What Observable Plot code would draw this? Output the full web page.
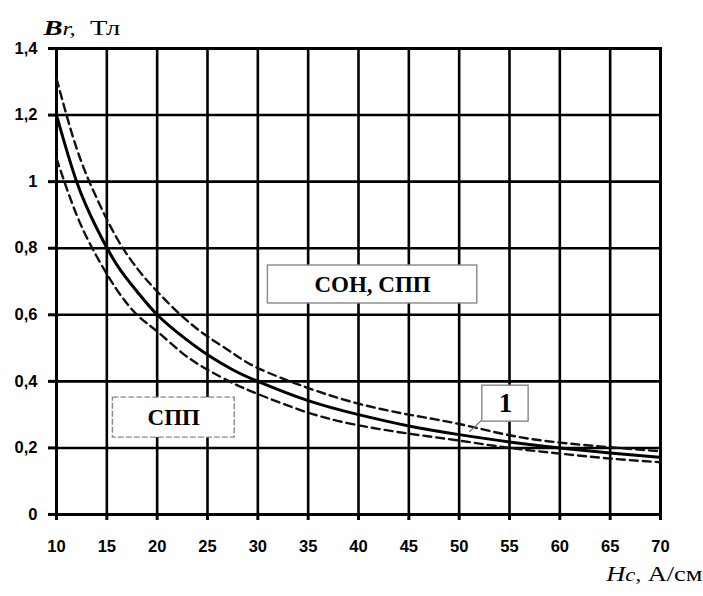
<!DOCTYPE html>
<html>
<head>
<meta charset="utf-8">
<script src="https://cdn.jsdelivr.net/npm/d3@7"></script>
<script src="https://cdn.jsdelivr.net/npm/@observablehq/plot@0.6"></script>
<style>
  html, body { margin: 0; padding: 0; background: #fff; }
</style>
</head>
<body>
<div id="chart"></div>
<script>
// ---- data ----
const H      = [10, 12, 14, 16, 18, 20, 22.5, 25, 27.5, 30, 35, 40, 45, 50, 55, 60, 65, 70];
const Bmain  = [1.2, 1.0, 0.86, 0.75, 0.67, 0.6, 0.535, 0.48, 0.435, 0.4, 0.342, 0.3, 0.266, 0.24, 0.218, 0.2, 0.185, 0.172];
const Bupper = [1.31, 1.1, 0.95, 0.83, 0.74, 0.67, 0.595, 0.535, 0.485, 0.44, 0.38, 0.333, 0.3, 0.272, 0.238, 0.216, 0.202, 0.19];
const Blower = [1.07, 0.9, 0.775, 0.675, 0.6, 0.55, 0.485, 0.435, 0.395, 0.362, 0.306, 0.268, 0.243, 0.222, 0.2, 0.183, 0.168, 0.157];

const xTicks = [10, 15, 20, 25, 30, 35, 40, 45, 50, 55, 60, 65, 70];
const yTicks = [0, 0.2, 0.4, 0.6, 0.8, 1.0, 1.2, 1.4];

// annotation boxes (data coordinates)
const boxText = ["СОН, СПП", "СПП", "1"];
const boxH1 = [31.0, 15.6, 52.3];
const boxH2 = [51.8, 27.7, 56.9];
const boxB1 = [0.634, 0.231, 0.279];
const boxB2 = [0.748, 0.351, 0.387];
const boxDashed = [false, true, false];

// leader line from box "1" to the curves
const leaderH = [52.3, 51.0];
const leaderB = [0.285, 0.248];

// axis titles
const yTitle = [{s: "B", it: true, b: true, fs: 22}, {s: "r,", it: true, b: false, fs: 19}, {s: "  Тл", it: false, b: false, fs: 22}];
const xTitle = [{s: "H", it: true, b: false, fs: 22}, {s: "c,", it: true, b: false, fs: 19}, {s: " А/см", it: false, b: false, fs: 22}];

// ---- build tables ----
const series = (B) => H.map((h, i) => ({H: h, B: B[i]}));
const boxes = boxText.map((t, i) => ({
  text: t, h1: boxH1[i], h2: boxH2[i], b1: boxB1[i], b2: boxB2[i],
  hc: (boxH1[i] + boxH2[i]) / 2, bc: (boxB1[i] + boxB2[i]) / 2, dashed: boxDashed[i]
}));
const leader = [{h1: leaderH[0], b1: leaderB[0], h2: leaderH[1], b2: leaderB[1]}];
const fmt = d => String(+d.toFixed(1)).replace(".", ",");
const yTitleStr = yTitle.map(p => p.s).join("");
const xTitleStr = xTitle.map(p => p.s).join("");

const serif = "'Liberation Serif', 'Times New Roman', serif";

const chart = Plot.plot({
  width: 703,
  height: 596,
  marginLeft: 56,
  marginRight: 43,
  marginTop: 48,
  marginBottom: 82,
  style: {fontFamily: "'Liberation Sans', Arial, sans-serif", fontWeight: "bold", fontSize: "16px", background: "#fff", color: "#000"},
  x: {domain: [10, 70]},
  y: {domain: [0, 1.4]},
  marks: [
    Plot.gridX(xTicks, {stroke: "#000", strokeOpacity: 1, strokeWidth: 2.6}),
    Plot.gridY(yTicks, {stroke: "#000", strokeOpacity: 1, strokeWidth: 2.6}),
    Plot.frame({stroke: "#000", strokeWidth: 3}),
    Plot.axisX({ticks: xTicks, tickSize: 6, tickPadding: 20, strokeWidth: 3, label: null, tickFormat: d => String(d), fontWeight: "bold", fontSize: 16.5}),
    Plot.axisY({ticks: yTicks, tickSize: 8, tickPadding: 11, strokeWidth: 3, label: null, tickFormat: fmt, fontWeight: "bold", fontSize: 16.5}),
    Plot.line(series(Bupper), {x: "H", y: "B", stroke: "#111", strokeWidth: 2.4, strokeDasharray: "8,5", curve: "natural"}),
    Plot.line(series(Blower), {x: "H", y: "B", stroke: "#111", strokeWidth: 2.4, strokeDasharray: "8,5", curve: "natural"}),
    Plot.line(series(Bmain), {x: "H", y: "B", stroke: "#000", strokeWidth: 3, curve: "natural"}),
    Plot.link(leader, {x1: "h1", y1: "b1", x2: "h2", y2: "b2", stroke: "#777", strokeWidth: 1.3}),
    Plot.rect(boxes.filter(d => !d.dashed), {x1: "h1", x2: "h2", y1: "b1", y2: "b2", fill: "#fff", stroke: "#888", strokeWidth: 1.4}),
    Plot.rect(boxes.filter(d => d.dashed), {x1: "h1", x2: "h2", y1: "b1", y2: "b2", fill: "#fff", stroke: "#888", strokeWidth: 1.4, strokeDasharray: "6,2"}),
    Plot.text(boxes.filter(d => d.text !== "1"), {x: "hc", y: "bc", text: "text", fontFamily: serif, fontWeight: "bold", fontSize: 23, fill: "#000"}),
    Plot.text(boxes.filter(d => d.text === "1"), {x: "hc", y: "bc", text: "text", fontFamily: serif, fontWeight: "bold", fontSize: 27, fill: "#000"}),
    Plot.text([yTitleStr], {frameAnchor: "top-left", dx: -13, dy: -21, textAnchor: "start", lineAnchor: "middle", fontFamily: serif, fontWeight: "normal", fontSize: 22}),
    Plot.text([xTitleStr], {frameAnchor: "bottom-right", dx: 42, dy: 59, textAnchor: "end", lineAnchor: "middle", fontFamily: serif, fontWeight: "normal", fontSize: 22})
  ]
});

// mixed-style axis titles (still real text), slightly widened like the original
function styleTitle(str, parts, sx) {
  const t = d3.select(chart).selectAll("text").filter(function() { return this.textContent === str; });
  if (t.empty()) return;
  t.text(null);
  t.attr("xml:space", "preserve").style("white-space", "pre");
  for (const p of parts) {
    t.append("tspan").text(p.s)
      .style("font-style", p.it ? "italic" : "normal")
      .style("font-weight", p.b ? "bold" : "normal")
      .style("font-size", p.fs + "px");
  }
  const tr = t.attr("transform");
  if (tr) t.attr("transform", tr + ` scale(${sx},1)`);
  else {
    const x = +t.attr("x") || 0, y = +t.attr("y") || 0;
    t.attr("x", null).attr("y", null).attr("transform", `translate(${x},${y}) scale(${sx},1)`);
  }
}
styleTitle(yTitleStr, yTitle, 1.3);
styleTitle(xTitleStr, xTitle, 1.2);

document.getElementById("chart").appendChild(chart);
</script>
</body>
</html>
